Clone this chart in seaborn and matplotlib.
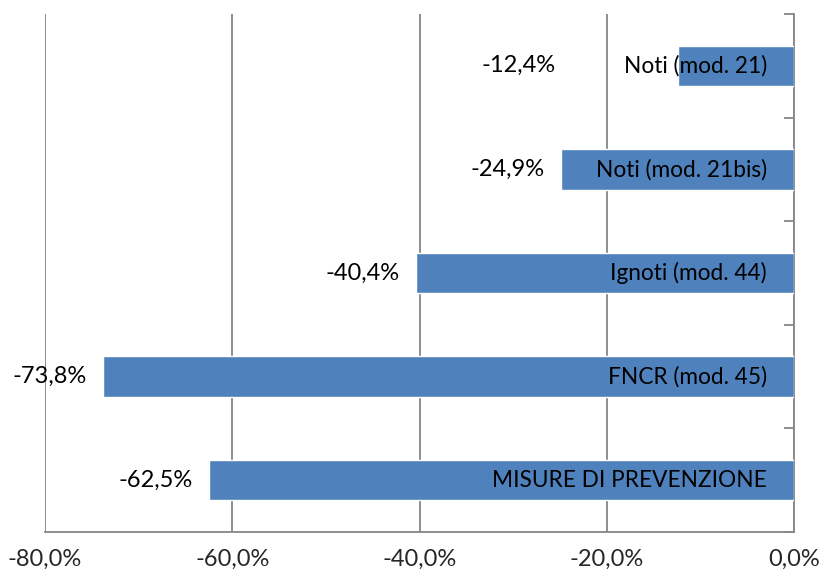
import matplotlib.pyplot as plt
import seaborn as sns
import numpy as np
import pandas as pd
from matplotlib.ticker import FuncFormatter

categories = ['Noti (mod. 21)', 'Noti (mod. 21bis)', 'Ignoti (mod. 44)',
              'FNCR (mod. 45)', 'MISURE DI PREVENZIONE']
values = [-12.4, -24.9, -40.4, -73.8, -62.5]

df = pd.DataFrame({'cat': categories, 'val': values})

sns.set_style('white')
plt.rcParams['font.family'] = ['Lato', 'DejaVu Sans']

fig = plt.figure(figsize=(8.25, 5.81), dpi=100)
ax = fig.add_axes([0.0545, 0.0843, 0.908, 0.8917])

sns.barplot(data=df, x='val', y='cat', orient='h', color='#4F81BD',
            saturation=1, width=0.39, ax=ax, zorder=3)

ax.set_xlim(-80, 0)
ax.set_ylim(len(categories) - 0.5, -0.5)
ax.set_xticks([-80, -60, -40, -20, 0])
ax.xaxis.set_major_formatter(FuncFormatter(lambda v, p: f'{v:.1f}%'.replace('.', ',')))
ax.grid(axis='x', color='#868686', linewidth=1.3, zorder=0)
ax.set_xlabel('')
ax.set_ylabel('')

for s in ['top', 'left']:
    ax.spines[s].set_visible(False)
for s in ['bottom', 'right']:
    ax.spines[s].set_color('#868686')
    ax.spines[s].set_linewidth(1.3)

ax.tick_params(axis='x', direction='out', length=7, width=1.3, color='#868686',
               labelsize=17, pad=5)
ax.yaxis.tick_right()
ax.set_yticks(np.arange(-0.5, len(categories), 1.0))
ax.set_yticklabels([])
ax.tick_params(axis='y', direction='in', length=7, width=1.3, color='#868686')

# labels: category name inside the bar end, value to the left of the bar
px = 72 / 100  # pixels -> points
label_offsets = [-122, -16, -16, -16, -16]
for i, (c, v) in enumerate(zip(categories, values)):
    ax.annotate(c, (0, i), xytext=(-27 * px, 0), textcoords='offset points',
                ha='right', va='center', fontsize=16.3, color='black', zorder=4)
    ax.annotate(f'{v:.1f}%'.replace('.', ','), (v, i), xytext=(label_offsets[i] * px, 0),
                textcoords='offset points', ha='right', va='center',
                fontsize=17, color='black', zorder=4)

plt.savefig('out.png', dpi=100)
